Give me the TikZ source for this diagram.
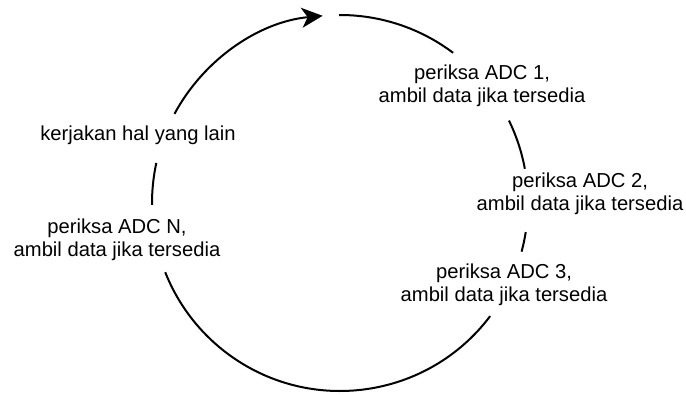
\documentclass[tikz,border=0pt]{standalone}
\usepackage{fontspec}
\setmainfont{Liberation Sans}
\usetikzlibrary{arrows.meta}
\begin{document}
\begin{tikzpicture}[x=0.5pt,y=0.5pt,
  label text/.style={align=center,font=\fontsize{10.1pt}{11.5pt}\selectfont,inner sep=0pt},
  loop arc/.style={line width=1pt},
  loop tip/.style={-{Stealth[length=10.5pt,width=10pt,inset=3pt]}}]
\useasboundingbox (0,0) rectangle (686,395);
\coordinate (c) at (340,192);
\def\rad{188}
% the process steps around the polling loop
\node[label text] (adc1) at (482,309) {periksa ADC 1,\\ambil data jika tersedia};
\node[label text] (adc2) at (580,201) {periksa ADC 2,\\ambil data jika tersedia};
\node[label text] (adc3) at (504,110) {periksa ADC 3,\\ambil data jika tersedia};
\node[label text] (other) at (138,260) {kerjakan hal yang lain};
\node[label text] (adcn) at (117,155) {periksa ADC N,\\ambil data jika tersedia};
% arc pieces of the loop, running clockwise
\draw[loop arc] (c) ++(90.3:\rad) arc[start angle=90.3,end angle=53,radius=\rad];
\draw[loop arc] (c) ++(26:\rad) arc[start angle=26,end angle=10.5,radius=\rad];
\draw[loop arc] (c) ++(-8.9:\rad) arc[start angle=-8.9,end angle=-15,radius=\rad];
\draw[loop arc] (c) ++(-37:\rad) arc[start angle=-37,end angle=-158.4,radius=\rad];
\draw[loop arc] (c) ++(180.6:\rad) arc[start angle=180.6,end angle=167.7,radius=\rad];
\draw[loop arc,loop tip] (c) ++(151.7:\rad) arc[start angle=151.7,end angle=95.3,radius=\rad];
\end{tikzpicture}
\end{document}
